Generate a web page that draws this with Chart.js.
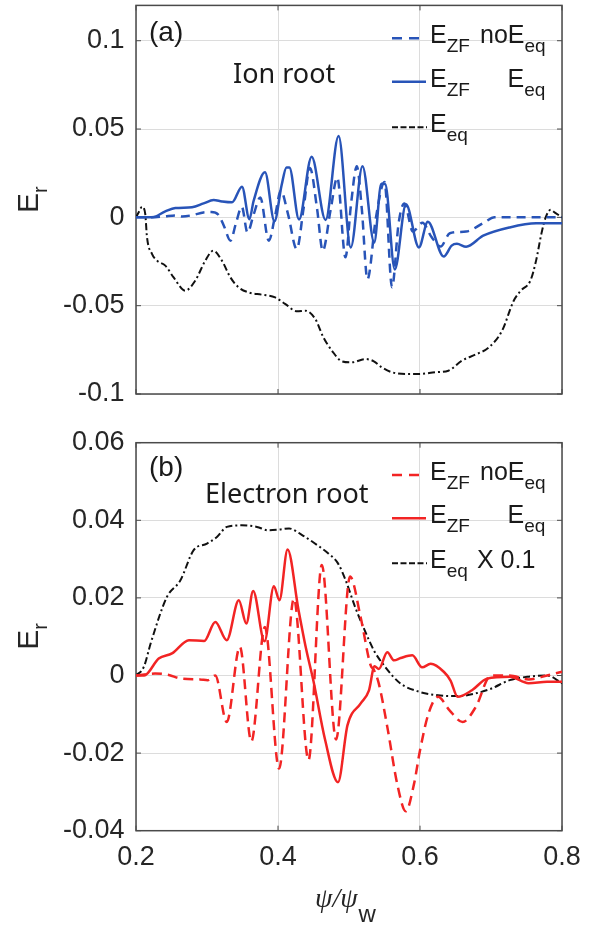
<!DOCTYPE html>
<html><head><meta charset="utf-8">
<script src="https://cdn.jsdelivr.net/npm/chart.js@4/dist/chart.umd.min.js"></script>
<style>
html,body{margin:0;padding:0;background:#fff;}
#wrap{position:relative;width:592px;height:926px;overflow:hidden;}
#ca{position:absolute;left:0;top:0;}
#cb{position:absolute;left:0;top:420px;}
</style></head>
<body><div id="wrap"><canvas id="ca" width="592" height="420"></canvas><canvas id="cb" width="592" height="506"></canvas></div>
<script>
// ---- tick definitions ----
const xTicks = [0.2, 0.4, 0.6, 0.8];
const xTickLabels = ['0.2', '0.4', '0.6', '0.8'];
const yTicksA = [-0.1, -0.05, 0, 0.05, 0.1];
const yTickLabelsA = ['-0.1', '-0.05', '0', '0.05', '0.1'];
const yTicksB = [-0.04, -0.02, 0, 0.02, 0.04, 0.06];
const yTickLabelsB = ['-0.04', '-0.02', '0', '0.02', '0.04', '0.06'];

// ---- panel (a): Ion root ----
const aNoEqX = [0.200,0.220,0.240,0.255,0.265,0.280,0.295,0.306,0.316,0.324,0.333,0.341,0.349,0.357,0.366,0.375,0.387,0.396,0.404,0.414,0.4265,0.436,0.445,0.455,0.463,0.474,0.4835,0.495,0.503,0.511,0.518,0.526,0.538,0.550,0.5606,0.570,0.578,0.590,0.6035,0.616,0.629,0.642,0.665,0.690,0.705,0.800];
const aNoEqY = [0,0,0.0005,0.001,0.0005,0.0013,0.0028,0.003,0.0015,-0.005,-0.0132,-0.003,0.006,-0.0085,0.002,0.0113,-0.0132,0.001,0.0151,0.002,-0.018,0.005,0.028,0.005,-0.0189,0.004,0.0226,-0.0226,0.008,0.029,0.005,-0.035,0.0,0.020,-0.0396,-0.003,0.0079,-0.008,-0.003,-0.011,-0.0165,-0.009,-0.008,-0.003,0,0];

const aZfX = [0.200,0.2225,0.2413,0.2554,0.2789,0.2952,0.3093,0.321,0.3352,0.3493,0.3597,0.3657,0.3817,0.3950,0.405,0.412,0.416,0.4296,0.4474,0.467,0.4853,0.5025,0.519,0.5355,0.5455,0.551,0.5645,0.5803,0.5985,0.611,0.6334,0.6446,0.652,0.665,0.689,0.7263,0.7637,0.800];
const aZfY = [0,0,0.0034,0.0053,0.0057,0.0079,0.0098,0.009,0.0085,0.0174,-0.001,0.0094,0.0255,-0.0022,0.018,0.0283,0.0283,-0.0012,0.0343,-0.0015,0.0460,-0.017,0.0290,-0.0142,0.0190,0.0188,-0.0295,0.0074,-0.017,-0.0025,-0.0222,-0.016,-0.015,-0.0166,-0.0104,-0.0057,-0.0034,-0.0034];

const aEqX = [0.200,0.204,0.2085,0.213,0.2155,0.2225,0.2296,0.2413,0.253,0.2694,0.2835,0.2976,0.309,0.321,0.333,0.3445,0.3586,0.3775,0.396,0.410,0.427,0.4385,0.4526,0.464,0.476,0.490,0.504,0.523,0.535,0.546,0.5606,0.579,0.598,0.6216,0.640,0.659,0.678,0.697,0.7157,0.732,0.742,0.7555,0.7635,0.771,0.777,0.784,0.790,0.800];
const aEqY = [0,0.003,0.006,0.002,-0.0113,-0.0207,-0.0245,-0.0273,-0.034,-0.0415,-0.0358,-0.0245,-0.0188,-0.0245,-0.034,-0.0396,-0.0425,-0.0438,-0.0453,-0.049,-0.0532,-0.0528,-0.0576,-0.068,-0.0755,-0.0815,-0.0821,-0.0802,-0.0815,-0.0849,-0.0877,-0.0887,-0.0887,-0.0877,-0.0868,-0.0811,-0.0777,-0.0736,-0.0641,-0.0472,-0.0415,-0.0358,-0.0245,-0.0092,0,0.0043,0.0027,0];

// ---- panel (b): Electron root ----
const bNoEqX = [0.200,0.2268,0.245,0.2638,0.290,0.301,0.3117,0.3278,0.3463,0.3624,0.3815,0.4015,0.4224,0.443,0.4617,0.4818,0.5015,0.5164,0.5305,0.535,0.542,0.554,0.568,0.580,0.5915,0.600,0.612,0.6254,0.6413,0.660,0.6786,0.700,0.726,0.753,0.779,0.800];
const bNoEqY = [0,0.0005,0.0002,-0.0008,-0.001,-0.0012,0,-0.012,0.0074,-0.0170,0.0125,-0.0240,0.0198,-0.0218,0.0285,-0.0165,0.0255,0.015,0.0026,0.0015,-0.0021,-0.0133,-0.028,-0.035,-0.028,-0.0193,-0.0098,-0.0055,-0.0089,-0.012,-0.0081,0,0,-0.001,0,0.001];

const bZfX = [0.200,0.2115,0.232,0.2507,0.2746,0.296,0.3117,0.3278,0.3448,0.3554,0.365,0.381,0.3942,0.402,0.4135,0.4286,0.4394,0.450,0.466,0.4845,0.4979,0.5165,0.528,0.536,0.542,0.554,0.5634,0.5728,0.5892,0.603,0.615,0.6338,0.643,0.653,0.6732,0.6945,0.7263,0.753,0.779,0.800];
const bZfY = [0,0,0.0044,0.0057,0.0091,0.0089,0.0138,0.0091,0.0194,0.0134,0.0218,0.0088,0.0230,0.0194,0.0325,0.0172,0.0070,-0.0015,-0.0163,-0.0275,-0.0128,-0.0072,-0.0039,0.0024,0.0017,0.0060,0.0039,0.0045,0.0052,0.0021,0.003,0.0009,-0.0013,-0.0055,-0.0038,-0.0008,-0.0003,-0.002,-0.0016,-0.0016];

const bEqX = [0.200,0.211,0.221,0.2437,0.2624,0.2812,0.300,0.314,0.328,0.349,0.3703,0.3863,0.4018,0.4155,0.434,0.4553,0.4713,0.4845,0.4952,0.5085,0.522,0.535,0.551,0.572,0.599,0.6254,0.6546,0.6786,0.700,0.7263,0.753,0.779,0.800];
const bEqY = [0,0.0022,0.0085,0.0203,0.0245,0.0323,0.0340,0.0357,0.0383,0.0387,0.0383,0.0374,0.0376,0.0379,0.0362,0.0336,0.0314,0.0289,0.0246,0.0177,0.0117,0.0065,0.0022,-0.002,-0.0042,-0.0051,-0.0053,-0.0046,-0.0034,-0.0012,-0.0003,0,-0.002];

// ---- styles ----
const BLUE = 'rgb(40,84,184)';
const RED = 'rgb(242,36,36)';
const BLACK = '#111111';
const DASH = [9, 6];
const DASHDOT = [7, 3, 2, 3];
const TICK_FONT = '27px "Liberation Sans", Arial, sans-serif';
const MAIN_FONT = '25px "Liberation Sans", Arial, sans-serif';
const SUB_FONT = '19px "Liberation Sans", Arial, sans-serif';
const SUB_DY = 9;

const pts = (xs, ys) => xs.map((x, i) => ({x: x, y: ys[i]}));

function ds(label, xs, ys, color, dash, width) {
  return {label, data: pts(xs, ys), borderColor: color, borderDash: dash, borderWidth: width,
    pointRadius: 0, fill: false, cubicInterpolationMode: 'monotone'};
}

function rich(ctx, x, y, parts, color) {
  ctx.fillStyle = color; ctx.textBaseline = 'alphabetic'; ctx.textAlign = 'left';
  let cx = x;
  for (const p of parts) {
    if (p.at !== undefined) cx = p.at;
    ctx.font = p.sub ? SUB_FONT : MAIN_FONT;
    ctx.fillText(p.t, cx, y + (p.sub ? SUB_DY : 0));
    cx += ctx.measureText(p.t).width;
  }
}

function overlay(cfg) {
  return {
    id: 'overlay_' + cfg.name,
    beforeDatasetsDraw(chart) {
      const {ctx, chartArea: a, scales} = chart;
      ctx.save();
      ctx.strokeStyle = '#4a4a4a'; ctx.lineWidth = 1.5;
      ctx.strokeRect(a.left, a.top, a.right - a.left, a.bottom - a.top);
      ctx.lineWidth = 1;
      ctx.beginPath();
      for (const v of cfg.yTicks) {
        const py = scales.y.getPixelForValue(v);
        ctx.moveTo(a.left, py); ctx.lineTo(a.left + 5, py);
        ctx.moveTo(a.right - 5, py); ctx.lineTo(a.right, py);
      }
      for (const v of xTicks) {
        const px = scales.x.getPixelForValue(v);
        ctx.moveTo(px, a.bottom); ctx.lineTo(px, a.bottom - 5);
        ctx.moveTo(px, a.top); ctx.lineTo(px, a.top + 5);
      }
      ctx.stroke();
      ctx.restore();
    },
    afterDraw(chart) {
      const ctx = chart.ctx;
      ctx.save();
      // panel tag
      ctx.fillStyle = '#1a1a1a'; ctx.font = '28px "Liberation Sans", Arial, sans-serif';
      ctx.textBaseline = 'alphabetic'; ctx.textAlign = 'left';
      ctx.fillText(cfg.tag, 149, cfg.tagY);
      // annotation
      ctx.font = '27px "Noto Sans", "Liberation Sans", sans-serif';
      ctx.fillText(cfg.note, cfg.noteX, 83);
      // legend
      for (const r of cfg.legend) {
        ctx.save();
        ctx.strokeStyle = r.color; ctx.lineWidth = r.width; ctx.setLineDash(r.dash);
        ctx.beginPath(); ctx.moveTo(392, r.y); ctx.lineTo(r.end, r.y); ctx.stroke();
        ctx.restore();
        rich(ctx, 430, r.y + 5, r.parts, '#1a1a1a');
      }
      // y title E_r (rotated)
      ctx.save();
      ctx.translate(38, cfg.yMid + 13);
      ctx.rotate(-Math.PI / 2);
      ctx.fillStyle = '#262626';
      ctx.font = '30px "Liberation Sans", Arial, sans-serif';
      ctx.fillText('E', 0, 0);
      const wE = ctx.measureText('E').width;
      ctx.font = '20px "Liberation Sans", Arial, sans-serif';
      ctx.fillText('r', wE, 9);
      ctx.restore();
      // x title
      if (cfg.xTitle) {
        ctx.fillStyle = '#262626';
        ctx.font = 'italic 28px "Liberation Serif", "DejaVu Serif", serif';
        ctx.fillText('ψ/ψ', 315, 487);
        const w = ctx.measureText('ψ/ψ').width;
        ctx.font = '24px "Liberation Sans", Arial, sans-serif';
        ctx.fillText('w', 315 + w + 1, 502);
      }
      ctx.restore();
    }
  };
}

function makeChart(id, cfg) {
  return new Chart(document.getElementById(id), {
    type: 'line',
    data: {datasets: cfg.datasets},
    options: {
      responsive: false, animation: false, devicePixelRatio: 1,
      layout: {padding: {left: 0, right: 30, top: cfg.padTop, bottom: 0}},
      plugins: {legend: {display: false}, tooltip: {enabled: false}},
      scales: {
        x: {
          type: 'linear', min: 0.2, max: 0.8,
          afterBuildTicks: s => { s.ticks = xTicks.map(v => ({value: v})); },
          afterFit: s => { s.height = cfg.xHeight; s.paddingLeft = 0; s.paddingRight = 0; },
          grid: {color: '#dcdcdc', lineWidth: 1, drawTicks: false},
          border: {display: false},
          ticks: {display: cfg.xLabels, font: {family: '"Liberation Sans", Arial, sans-serif', size: 27},
            color: '#262626', padding: 11, maxRotation: 0,
            callback: v => xTickLabels[xTicks.findIndex(t => Math.abs(t - v) < 1e-9)]}
        },
        y: {
          type: 'linear', min: cfg.yMin, max: cfg.yMax,
          afterBuildTicks: s => { s.ticks = cfg.yTicks.map(v => ({value: v})); },
          afterFit: s => { s.width = 136; s.paddingTop = 0; s.paddingBottom = 0; },
          grid: {color: '#dcdcdc', lineWidth: 1, drawTicks: false},
          border: {display: false},
          ticks: {font: {family: '"Liberation Sans", Arial, sans-serif', size: 27}, color: '#262626', padding: 11.5,
            callback: v => cfg.yLabels[cfg.yTicks.findIndex(t => Math.abs(t - v) < 1e-9)]}
        }
      }
    },
    plugins: [overlay(cfg)]
  });
}

makeChart('ca', {
  name: 'a', padTop: 5.4, xHeight: 26, xLabels: false,
  yMin: -0.1, yMax: 0.12, yTicks: yTicksA, yLabels: yTickLabelsA,
  tag: '(a)', tagY: 41, note: 'Ion root', noteX: 233, yMid: 200, xTitle: false,
  datasets: [
    ds('E_ZF noE_eq', aNoEqX, aNoEqY, BLUE, DASH, 2.5),
    ds('E_ZF E_eq', aZfX, aZfY, BLUE, [], 2.5),
    ds('E_eq', aEqX, aEqY, BLACK, DASHDOT, 2)
  ],
  legend: [
    {y: 38.3, color: BLUE, width: 2.5, dash: [10, 7], end: 420, parts: [{t: 'E'}, {t: 'ZF', sub: 1}, {t: 'noE', at: 480}, {t: 'eq', sub: 1}]},
    {y: 81.7, color: BLUE, width: 2.5, dash: [], end: 426, parts: [{t: 'E'}, {t: 'ZF', sub: 1}, {t: 'E', at: 507.5}, {t: 'eq', sub: 1}]},
    {y: 127.3, color: BLACK, width: 2, dash: [6, 2.5], end: 427, parts: [{t: 'E'}, {t: 'eq', sub: 1}]}
  ]
});

makeChart('cb', {
  name: 'b', padTop: 22.7, xHeight: 95.3, xLabels: true,
  yMin: -0.04, yMax: 0.06, yTicks: yTicksB, yLabels: yTickLabelsB,
  tag: '(b)', tagY: 56, note: 'Electron root', noteX: 205, yMid: 216.7, xTitle: true,
  datasets: [
    ds('E_ZF noE_eq', bNoEqX, bNoEqY, RED, [10, 6], 2.5),
    ds('E_ZF E_eq', bZfX, bZfY, RED, [], 2.5),
    ds('E_eq X 0.1', bEqX, bEqY, BLACK, DASHDOT, 2)
  ],
  legend: [
    {y: 55, color: RED, width: 2.5, dash: [10, 7], end: 420, parts: [{t: 'E'}, {t: 'ZF', sub: 1}, {t: 'noE', at: 480}, {t: 'eq', sub: 1}]},
    {y: 98.3, color: RED, width: 2.5, dash: [], end: 426, parts: [{t: 'E'}, {t: 'ZF', sub: 1}, {t: 'E', at: 507.5}, {t: 'eq', sub: 1}]},
    {y: 143.3, color: BLACK, width: 2, dash: [6, 2.5], end: 427, parts: [{t: 'E'}, {t: 'eq', sub: 1}, {t: 'X 0.1', at: 477}]}
  ]
});
</script>
</body></html>
